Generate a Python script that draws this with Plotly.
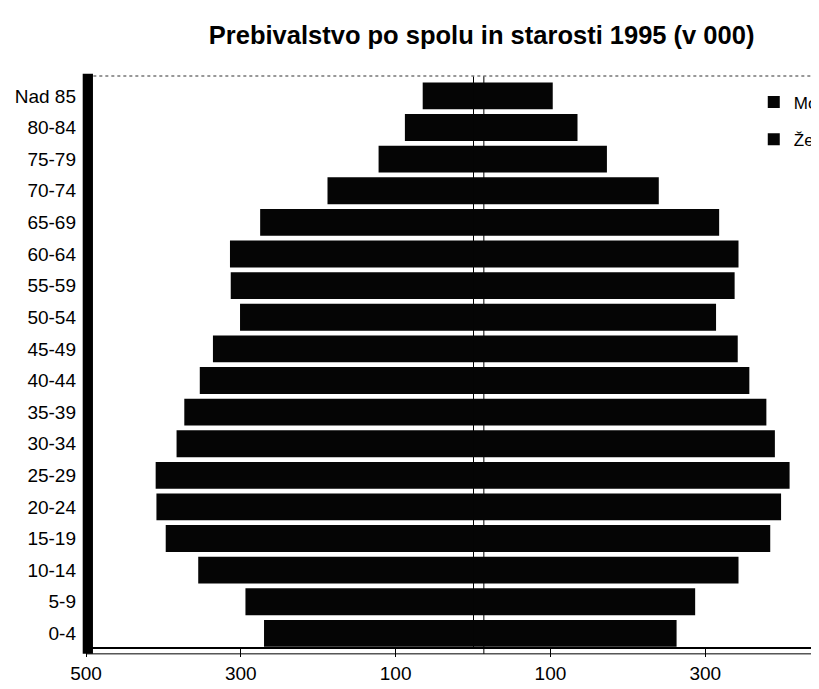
import plotly.graph_objects as go

age_groups = ["0-4", "5-9", "10-14", "15-19", "20-24", "25-29", "30-34", "35-39",
              "40-44", "45-49", "50-54", "55-59", "60-64", "65-69", "70-74",
              "75-79", "80-84", "Nad 85"]
moski = [270, 294, 355, 397, 409, 410, 383, 373, 353, 336, 301, 313, 314, 275,
         188, 122, 88, 65]
zenske = [263, 287, 343, 384, 398, 409, 390, 379, 357, 342, 314, 338, 343, 318,
          240, 173, 135, 103]
tick_vals = [-500, -300, -100, 100, 300]
tick_text = ["500", "300", "100", "100", "300"]

font_family = "Liberation Sans, Arial, sans-serif"

fig = go.Figure()
fig.add_trace(go.Bar(
    y=age_groups, x=[-v for v in moski], orientation="h", name="Moški",
    marker=dict(color="#050505", line=dict(width=0)), legendgroup="m",
))
fig.add_trace(go.Bar(
    y=age_groups, x=zenske, orientation="h", name="Ženske",
    marker=dict(color="#050505", line=dict(width=0)), legendgroup="z",
))

# page body has an 8px default margin, so the figure is sized to fill the rest
fig.update_layout(
    width=811, height=681,
    margin=dict(l=78, r=0, t=68, b=42, autoexpand=False),
    paper_bgcolor="white", plot_bgcolor="white",
    barmode="relative", bargap=0.15,
    title=dict(text="<b>Prebivalstvo po spolu in starosti 1995 (v 000)</b>",
               x=0.584, xanchor="center", y=0.96, yanchor="middle",
               font=dict(family=font_family, size=25.5, color="black")),
    font=dict(family=font_family, color="black"),
    legend=dict(x=0.911, xanchor="left", y=0.985, yanchor="top",
                font=dict(size=17, color="black"), traceorder="grouped",
                tracegroupgap=12, bgcolor="rgba(0,0,0,0)"),
    xaxis=dict(range=[-500, 447], tickvals=tick_vals, ticktext=tick_text,
               ticks="outside", ticklen=8, tickcolor="black", tickwidth=1,
               showgrid=False, zeroline=True, zerolinecolor="black", zerolinewidth=1,
               showline=True, linecolor="black", linewidth=1.5,
               tickfont=dict(size=19, color="black")),
    yaxis=dict(range=[-0.43, 17.63], showgrid=False, showline=False,
               ticks="", ticklabelstandoff=9,
               tickfont=dict(size=19, color="black")),
    shapes=[
        dict(type="rect", xref="paper", yref="paper", x0=-0.0045, x1=0.0095,
             y0=-0.012, y1=1.004, fillcolor="black", line=dict(width=0), layer="above"),
        dict(type="line", xref="paper", yref="paper", x0=0, x1=1, y0=-0.012, y1=-0.012,
             line=dict(color="black", width=1)),
        dict(type="line", xref="paper", yref="paper", x0=0.01, x1=1, y0=1.0, y1=1.0,
             line=dict(color="#777777", width=1.5, dash="dot")),
        dict(type="line", xref="x", yref="paper", x0=14, x1=14, y0=-0.012, y1=1.0,
             line=dict(color="black", width=1), layer="below"),
    ],
)

fig.write_html("out.html")
